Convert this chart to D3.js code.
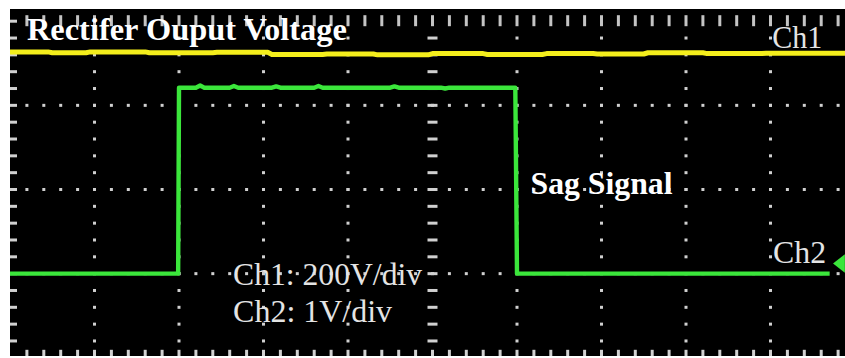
<!DOCTYPE html>
<html>
<head>
<meta charset="utf-8">
<script src="https://cdn.jsdelivr.net/npm/d3@7"></script>
<style>
  html, body { margin: 0; padding: 0; background: #ffffff; }
  svg { display: block; }
</style>
</head>
<body>
<script>
// Scope capture: time in divisions (0..10), vertical in divisions from the centre axis (0 .. -4)
const ch1Time = [0, 0.45, 0.5, 0.9, 0.95, 1.6, 1.65, 2.4, 2.45, 3.05, 3.1, 3.7, 3.75, 4.3, 4.35, 4.95, 5.0, 5.6, 5.65, 6.3, 6.35, 6.9, 6.95, 7.5, 7.55, 8.2, 8.25, 8.9, 8.95, 9.9];
const ch1Level = [-0.365, -0.365, -0.375, -0.375, -0.365, -0.365, -0.375, -0.375, -0.37, -0.37, -0.395, -0.395, -0.39, -0.39, -0.4, -0.4, -0.385, -0.385, -0.395, -0.395, -0.385, -0.385, -0.39, -0.39, -0.375, -0.375, -0.385, -0.385, -0.38, -0.38];

const ch2Time = [0, 1.99, 2.0, 2.2, 2.25, 2.3, 2.6, 2.65, 2.7, 3.1, 3.15, 3.2, 3.6, 3.65, 3.7, 4.5, 4.55, 4.6, 5.1, 5.15, 5.2, 5.98, 6.0, 6.3, 6.8, 7.5, 8.2, 9.7];
const ch2Level = [-3.0, -3.0, -0.79, -0.79, -0.765, -0.79, -0.79, -0.77, -0.79, -0.79, -0.775, -0.79, -0.79, -0.77, -0.79, -0.79, -0.775, -0.79, -0.79, -0.8, -0.79, -0.79, -3.0, -3.0, -3.0, -3.0, -3.0, -3.0];

const majorX = [1, 2, 3, 4, 6, 7, 8, 9];
const majorY = [-1, -2, -3];
const minorStep = 0.2;

const labels = [
  { text: "Rectifer Ouput Voltage", t: 0.2, v: -0.225, bold: true, len: 320 },
  { text: "Sag Signal", t: 6.16, v: -2.05, bold: true, len: 142 },
  { text: "Ch1", t: 9.02, v: -0.32, bold: false, len: 50 },
  { text: "Ch2", t: 9.03, v: -2.875, bold: false, len: 53 },
  { text: "Ch1: 200V/div", t: 2.64, v: -3.135, bold: false, len: 189 },
  { text: "Ch2: 1V/div", t: 2.64, v: -3.575, bold: false, len: 159 }
];

const W = 845, H = 358;
const svg = d3.select("body").append("svg").attr("width", W).attr("height", H);

const x = d3.scaleLinear().domain([0, 10]).range([10, 855]);
const y = d3.scaleLinear().domain([0, -4]).range([21.2, 357.8]);

const defs = svg.append("defs");
defs.append("clipPath").attr("id", "screen")
  .append("rect").attr("x", 10).attr("y", 9).attr("width", 835).attr("height", 347);
const glow = defs.append("filter").attr("id", "soft").attr("x", "-5%").attr("y", "-5%").attr("width", "110%").attr("height", "110%");
glow.append("feGaussianBlur").attr("stdDeviation", 0.6);

svg.append("rect").attr("width", W).attr("height", H).attr("fill", "#ffffff");
svg.append("rect").attr("x", 10).attr("y", 9).attr("width", 835).attr("height", 347).attr("fill", "#000000");

const scr = svg.append("g").attr("clip-path", "url(#screen)");
const grat = scr.append("g").attr("filter", "url(#soft)");

const minorT = d3.range(0, 10.001, minorStep);
const minorV = d3.range(0, -4.001, -minorStep);

// dotted vertical graticule lines
majorX.forEach(t => {
  grat.selectAll(null).data(minorV.slice(1)).join("rect")
    .attr("x", x(t) - 1.5).attr("y", d => y(d) - 1.5)
    .attr("width", 3).attr("height", 3).attr("fill", "#d0d0d0");
});
// dotted horizontal graticule lines
majorY.forEach(v => {
  grat.selectAll(null).data(minorT.slice(1)).join("rect")
    .attr("x", d => x(d) - 1.5).attr("y", y(v) - 1.5)
    .attr("width", 3).attr("height", 3).attr("fill", "#d0d0d0");
});
// centre horizontal axis ticks
grat.selectAll(null).data(minorT.slice(1)).join("rect")
  .attr("x", d => x(d) - 1.5).attr("y", y(0) - 6)
  .attr("width", 3).attr("height", 11).attr("fill", "#c4c4c4");
// centre vertical axis ticks
grat.selectAll(null).data(minorV.slice(1)).join("rect")
  .attr("x", x(5) - 5).attr("y", d => y(d) - 1.5)
  .attr("width", 10).attr("height", 3).attr("fill", "#d0d0d0");
// bottom edge ticks
grat.selectAll(null).data(minorT.slice(1)).join("rect")
  .attr("x", d => x(d) - 1.5).attr("y", y(-4) - 8)
  .attr("width", 3).attr("height", 8).attr("fill", "#d0d0d0");
// left edge ticks
grat.selectAll(null).data(d3.range(0.2, -4.001, -minorStep)).join("rect")
  .attr("x", 10).attr("y", d => y(d) - 1.5)
  .attr("width", 7).attr("height", 3).attr("fill", "#d0d0d0");

// traces
const line = d3.line().x(d => x(d[0])).y(d => y(d[1]));
const tr = scr.append("g").attr("filter", "url(#soft)");
tr.append("path")
  .attr("d", line(ch1Time.map((t, i) => [t, ch1Level[i]])))
  .attr("fill", "none").attr("stroke", "#f4ee1c").attr("stroke-width", 5)
  .attr("stroke-linejoin", "round");
tr.append("path")
  .attr("d", line(ch2Time.map((t, i) => [t, ch2Level[i]])))
  .attr("fill", "none").attr("stroke", "#3be63b").attr("stroke-width", 4.4)
  .attr("stroke-linejoin", "round");

// Ch2 reference marker on the right edge
tr.append("path")
  .attr("d", `M${x(9.74)},${y(-2.88)} L${x(9.88)},${y(-2.77)} L${x(9.88)},${y(-2.99)} Z`)
  .attr("fill", "#3be63b");

// annotations
svg.append("g").selectAll("text").data(labels).join("text")
  .attr("x", d => x(d.t)).attr("y", d => y(d.v))
  .attr("font-family", "'Liberation Serif', 'Times New Roman', serif")
  .attr("font-size", d => d.bold ? 31 : 31)
  .attr("font-weight", d => d.bold ? "bold" : "normal")
  .attr("fill", d => d.bold ? "#ffffff" : "#e4e4e4")
  .attr("textLength", d => d.len)
  .attr("lengthAdjust", "spacingAndGlyphs")
  .text(d => d.text);
</script>
</body>
</html>
